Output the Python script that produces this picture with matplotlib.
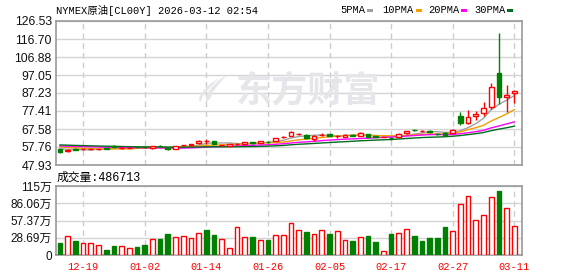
import matplotlib
matplotlib.use('Agg')
import matplotlib.pyplot as plt
from matplotlib.patches import Rectangle, Polygon
import numpy as np

plt.rcParams['font.family'] = ['Liberation Sans', 'Noto Sans CJK SC', 'DejaVu Sans']

# trading days shown on the chart
dates = ['12-16', '12-17', '12-18', '12-19', '12-22', '12-23', '12-24', '12-26', '12-29', '12-30',
         '12-31', '01-02', '01-05', '01-06', '01-07', '01-08', '01-09', '01-12', '01-13', '01-14',
         '01-15', '01-16', '01-19', '01-20', '01-21', '01-22', '01-23', '01-26', '01-27', '01-28',
         '01-29', '01-30', '02-02', '02-03', '02-04', '02-05', '02-06', '02-09', '02-10', '02-11',
         '02-12', '02-13', '02-16', '02-17', '02-18', '02-19', '02-20', '02-23', '02-24', '02-25',
         '02-26', '02-27', '03-02', '03-03', '03-04', '03-05', '03-06', '03-09', '03-10', '03-11']

opens = [56.7, 55.3, 56.8, 56.4, 56.4, 56.5, 57.0, 58.1, 57.0, 57.2,
         57.9, 57.7, 57.1, 58.3, 57.2, 56.9, 58.6, 59.1, 60.1, 61.0,
         61.0, 58.6, 58.5, 59.2, 59.3, 60.3, 59.9, 60.7, 61.0, 63.0,
         63.9, 64.8, 64.4, 62.3, 64.2, 64.6, 63.7, 63.4, 64.4, 63.8,
         64.9, 63.6, 63.2, 62.8, 63.0, 65.2, 67.1, 66.4, 66.3, 65.0,
         65.6, 65.6, 74.7, 71.0, 74.7, 76.5, 79.4, 98.0, 85.2, 87.1]
closes = [55.2, 56.3, 56.3, 56.6, 56.6, 56.8, 56.8, 58.0, 57.4, 57.4,
          57.7, 57.5, 58.1, 58.1, 56.4, 58.2, 58.8, 59.3, 61.2, 61.0,
          59.6, 58.7, 59.4, 59.3, 60.3, 59.9, 61.0, 60.5, 62.5, 63.2,
          66.1, 65.0, 62.6, 63.8, 64.4, 64.0, 63.9, 64.5, 63.9, 65.2,
          63.4, 63.3, 63.4, 62.5, 64.9, 66.3, 66.9, 66.4, 66.1, 64.8,
          64.5, 67.0, 71.0, 74.3, 75.8, 79.0, 90.7, 85.2, 86.0, 88.2]
highs = [56.8, 56.4, 57.0, 56.9, 56.8, 56.9, 57.2, 58.9, 57.6, 57.6,
         58.3, 57.9, 58.2, 58.7, 57.4, 58.4, 59.0, 59.6, 61.7, 62.1,
         61.2, 59.0, 59.6, 59.8, 60.5, 60.6, 61.3, 61.2, 62.8, 63.8,
         66.4, 65.6, 64.8, 64.1, 65.3, 64.8, 64.5, 64.7, 64.6, 66.0,
         65.1, 63.8, 63.6, 63.1, 65.2, 66.5, 67.5, 66.9, 66.8, 65.3,
         65.9, 67.6, 76.6, 77.9, 77.3, 82.3, 92.5, 119.8, 91.4, 89.0]
lows = [54.6, 55.1, 56.0, 56.1, 56.2, 56.3, 56.6, 57.6, 56.8, 57.0,
        57.5, 57.3, 56.9, 57.7, 56.2, 56.7, 58.3, 58.8, 59.5, 59.5,
        59.4, 58.3, 58.3, 58.8, 59.1, 59.6, 59.7, 60.0, 60.9, 62.6,
        63.7, 64.2, 62.3, 61.3, 63.8, 63.8, 62.8, 63.2, 63.6, 63.6,
        63.2, 63.0, 63.0, 61.8, 62.8, 65.0, 66.6, 65.9, 65.6, 64.3,
        64.2, 65.4, 70.0, 70.3, 72.6, 74.7, 78.7, 81.2, 76.9, 81.9]

# closes before the first visible day, only used for the moving averages
warmup_closes = [60.8, 60.2, 59.6, 60.4, 60.0, 59.8, 60.3, 59.9, 60.1, 59.9,
                 58.5, 59.1, 58.9, 58.4, 58.7, 59.0, 58.6, 59.2, 58.8, 58.8,
                 59.2, 58.6, 59.0, 58.4, 58.8, 57.6, 57.0, 57.3, 56.9]

# volume in 万 (10k)
volumes = [20.5, 31.1, 23.3, 20.0, 20.0, 16.1, 8.3, 15.0, 14.5, 11.1,
           13.3, 16.6, 26.1, 26.6, 34.9, 29.4, 31.1, 27.8, 36.6, 41.6,
           33.3, 26.1, 11.1, 46.1, 29.4, 29.9, 24.4, 24.9, 32.8, 32.8,
           53.2, 41.1, 38.2, 34.4, 41.1, 34.9, 39.4, 24.4, 23.3, 29.4,
           31.6, 21.6, 6.2, 34.9, 36.6, 42.7, 31.6, 23.3, 28.3, 28.3,
           46.6, 39.4, 84.8, 98.1, 57.7, 66.5, 96.0, 106.4, 77.7, 48.6713]
vol_colors = 'GRGRRRGGRRGGRGGRRRRGGRRRRGRGRRRRGRRGRRGRGGRGRRGGGGGRRRRRRGRR'

price_ticks = [47.93, 57.76, 67.58, 77.41, 87.23, 97.05, 106.88, 116.70, 126.53]
vol_ticks = [0, 28.69, 57.37, 86.06, 114.75]
vol_tick_labels = ['0', '28.69万', '57.37万', '86.06万', '115万']
ma_periods = [5, 10, 20, 30]
ma_labels = ['5PMA', '10PMA', '20PMA', '30PMA']
ma_colors = ['#a0a0a0', '#f0a000', '#ff00ff', '#006e1e']

RED = '#ff0000'
GREEN = '#008000'
GRID = '#d4d4d4'
SPINE = '#999999'
WM = '#e6e6ea'
mono = ['Liberation Mono', 'Noto Sans CJK SC']

W, H = 578, 276
fig = plt.figure(figsize=(W / 100, H / 100), dpi=100)
ax = fig.add_axes([56 / W, 1 - 165 / H, 466 / W, 144 / H])
axv = fig.add_axes([56 / W, 1 - 255 / H, 466 / W, 69 / H])

def px(xp, yp):
    return (xp / W, 1 - yp / H)

x = np.arange(len(closes))
o = np.array(opens)
c = np.array(closes)
up = c >= o
col = np.where(up, RED, GREEN)

# watermark: logo swoosh + text
ax.text(0.541, 0.515, '东方财富', transform=ax.transAxes, fontsize=26, fontweight='bold',
        color=WM, ha='center', va='center', family='Noto Sans CJK SC', zorder=1)
flame = [(227, 75), (219, 80), (212, 87), (207, 94), (205, 103), (210, 99),
         (213, 92), (218, 85)]
flame2 = [(219, 78), (210, 84), (203, 91), (199, 98), (200, 103), (203, 96), (209, 89)]
for pts in (flame, flame2):
    fig.patches.append(Polygon([px(a, b) for a, b in pts], closed=True, transform=fig.transFigure,
                               facecolor=WM, edgecolor='none', zorder=1))

# candles
ax.vlines(x, lows, highs, colors=col, lw=1, zorder=3)
body_h = np.maximum(np.abs(c - o), 0.12)
ax.bar(x, body_h, width=0.62, bottom=np.minimum(o, c), facecolor=np.where(up, 'white', GREEN),
       edgecolor=col, lw=1, zorder=4)

# moving averages
full = np.array(warmup_closes + closes)
n0 = len(warmup_closes)
for p, mc in zip(ma_periods, ma_colors):
    ma = np.convolve(full, np.ones(p) / p, mode='valid')
    ma = ma[n0 - p + 1:]
    ax.plot(x, ma, color=mc, lw=1, zorder=2)

# volume
vc = [RED if k == 'R' else GREEN for k in vol_colors]
vface = ['white' if k == 'R' else GREEN for k in vol_colors]
axv.bar(x, volumes, width=0.6, facecolor=vface, edgecolor=vc, lw=1, zorder=3)

tick_idx = list(range(3, len(dates), 8))
for a in (ax, axv):
    a.set_xlim(-0.52, 60.0)
    a.set_xticks(tick_idx)
    a.xaxis.grid(True, color='#cccccc', lw=1, ls=(0, (4, 3)))
    a.yaxis.grid(True, color=GRID, lw=1)
    a.set_axisbelow(True)
    a.tick_params(length=0, pad=3)
    for s in a.spines.values():
        s.set_color(SPINE)
        s.set_linewidth(1.2)

ax.set_ylim(price_ticks[0], price_ticks[-1])
ax.set_yticks(price_ticks)
ax.set_yticklabels(['%.2f' % v for v in price_ticks], fontsize=8.8, color='#111111')
ax.set_xticklabels([])

axv.set_ylim(vol_ticks[0], vol_ticks[-1])
axv.set_yticks(vol_ticks)
axv.set_yticklabels(vol_tick_labels, fontsize=8.5, color='#111111')
axv.set_xticklabels([dates[i] for i in tick_idx], color=RED, fontsize=7.5, family=mono)
axv.tick_params(axis='x', pad=5)

# header and legend
fig.text(56 / W, 1 - 10 / H, 'NYMEX原油[CL00Y] 2026-03-12 02:54', fontsize=7.5, family=mono,
         va='center', ha='left')
legend_pos = [(340, 367), (382, 416), (428, 461), (474, 507)]
for lab, (tx, sx), mc in zip(ma_labels, legend_pos, ma_colors):
    fig.text(tx / W, 1 - 10 / H, lab, fontsize=7.5, family=mono, va='center', ha='left')
    fig.patches.append(Rectangle(px(sx, 12), 6 / W, 3 / H, transform=fig.transFigure,
                                 facecolor=mc, edgecolor='none'))

fig.text(57 / W, 1 - 178 / H, '成交量:486713', fontsize=8.5, family=mono, va='center', ha='left')

fig.savefig('out.png', dpi=100)
